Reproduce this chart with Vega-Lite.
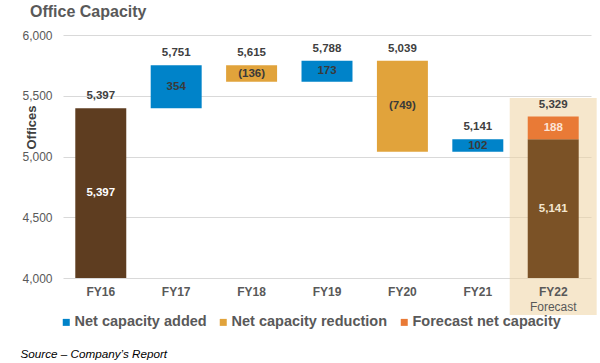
{
  "$schema": "https://vega.github.io/schema/vega-lite/v6.json",
  "width": 528,
  "height": 243,
  "autosize": {"type": "none"},
  "padding": {"left": 63, "top": 35, "right": 9, "bottom": 85},
  "background": "white",
  "config": {"font": "Liberation Sans", "view": {"stroke": null}},
  "title": {"text": "Office Capacity", "anchor": "start", "frame": "group", "dx": -33, "dy": 20, "offset": 16, "baseline": "alphabetic", "fontSize": 16, "fontWeight": "bold", "color": "#595959"},
  "data": {"values": [
    {"year": "FY16", "type": "Total", "start": 4000, "end": 5397, "label": "5,397"},
    {"year": "FY17", "type": "Net capacity added", "start": 5397, "end": 5751, "label": "354"},
    {"year": "FY18", "type": "Net capacity reduction", "start": 5751, "end": 5615, "label": "(136)"},
    {"year": "FY19", "type": "Net capacity added", "start": 5615, "end": 5788, "label": "173"},
    {"year": "FY20", "type": "Net capacity reduction", "start": 5788, "end": 5039, "label": "(749)"},
    {"year": "FY21", "type": "Net capacity added", "start": 5039, "end": 5141, "label": "102"},
    {"year": "FY22", "type": "Forecast base", "start": 4000, "end": 5141, "label": "5,141"},
    {"year": "FY22", "type": "Forecast net capacity", "start": 5141, "end": 5329, "label": "188"}
  ]},
  "encoding": {
    "x": {
      "field": "year", "type": "nominal", "sort": ["FY16", "FY17", "FY18", "FY19", "FY20", "FY21", "FY22"],
      "scale": {"paddingInner": 0.324, "paddingOuter": 0.163},
      "axis": {
        "labelAngle": 0, "labelFontSize": 12, "labelFontWeight": "bold", "labelColor": "#595959",
        "labelPadding": 8, "ticks": false, "tickSize": 0, "domain": false, "zindex": 1,
        "title": "Source – Company’s Report", "titleX": -43, "titleY": 75, "titleAlign": "left",
        "titleBaseline": "middle", "titleAnchor": "start", "titleFontStyle": "italic", "titleFontWeight": "normal",
        "titleFontSize": 11.7, "titleColor": "#000000"
      }
    },
    "y": {
      "field": "start", "type": "quantitative",
      "scale": {"domain": [4000, 6000], "nice": false, "zero": false},
      "axis": {
        "values": [4000, 4500, 5000, 5500, 6000], "labelExpr": "format(datum.value, ',')", "labelFontSize": 12, "labelColor": "#595959",
        "labelPadding": 11, "ticks": false, "tickSize": 0, "domain": false, "grid": true, "gridColor": "#D9D9D9", "gridWidth": 1,
        "title": "Offices", "titleFontSize": 13, "titleFontWeight": "bold", "titleColor": "#404040",
        "titleX": -32, "titleY": 92, "titleAngle": 270, "titleAlign": "center", "titleBaseline": "middle"
      }
    }
  },
  "layer": [
    {
      "transform": [{"filter": "datum.type == 'Forecast net capacity'"}],
      "mark": {"type": "bar", "width": {"band": 1.706}, "color": "#EED3A3", "opacity": 0.55},
      "encoding": {
        "y": {"datum": 5481, "type": "quantitative"},
        "y2": {"datum": 3695}
      }
    },
    {
      "mark": {"type": "bar"},
      "encoding": {
        "y2": {"field": "end"},
        "color": {
          "field": "type", "type": "nominal",
          "scale": {
            "domain": ["Total", "Net capacity added", "Net capacity reduction", "Forecast net capacity", "Forecast base"],
            "range": ["#5E3D20", "#0083C9", "#E1A33B", "#E97A36", "#7B5226"]
          },
          "legend": {
            "values": ["Net capacity added", "Net capacity reduction", "Forecast net capacity"],
            "orient": "none", "legendX": -4, "legendY": 280, "direction": "horizontal", "title": null,
            "symbolType": "square", "symbolSize": 49, "symbolStrokeWidth": 0,
            "labelFontSize": 14.5, "labelFontWeight": "bold", "labelColor": "#595959",
            "columnPadding": 9, "labelOffset": 1
          }
        }
      }
    },
    {
      "transform": [{"calculate": "(datum.start + datum.end) / 2", "as": "mid"}],
      "mark": {"type": "text", "fontSize": 11.5, "fontWeight": "bold", "baseline": "middle"},
      "encoding": {
        "y": {"field": "mid", "type": "quantitative"},
        "text": {"field": "label"},
        "color": {
          "condition": [
            {"test": "datum.type == 'Forecast net capacity'", "value": "#FCE4D6"},
            {"test": "datum.type == 'Forecast base'", "value": "#F3E6D0"},
            {"test": "datum.type == 'Total'", "value": "#FFFFFF"}
          ],
          "value": "#3A3A3A"
        }
      }
    },
    {
      "transform": [
        {"filter": "datum.type != 'Forecast base'"},
        {"calculate": "max(datum.start, datum.end)", "as": "top"}
      ],
      "mark": {"type": "text", "fontSize": 11.5, "fontWeight": "bold", "baseline": "middle", "dy": -12, "color": "#404040"},
      "encoding": {
        "y": {"field": "top", "type": "quantitative"},
        "text": {"field": "end", "format": ","}
      }
    },
    {
      "transform": [{"filter": "datum.type == 'Forecast net capacity'"}],
      "mark": {"type": "text", "text": "Forecast", "fontSize": 12, "baseline": "middle", "color": "#595959"},
      "encoding": {
        "y": {"datum": 3761, "type": "quantitative"}
      }
    }
  ]
}
